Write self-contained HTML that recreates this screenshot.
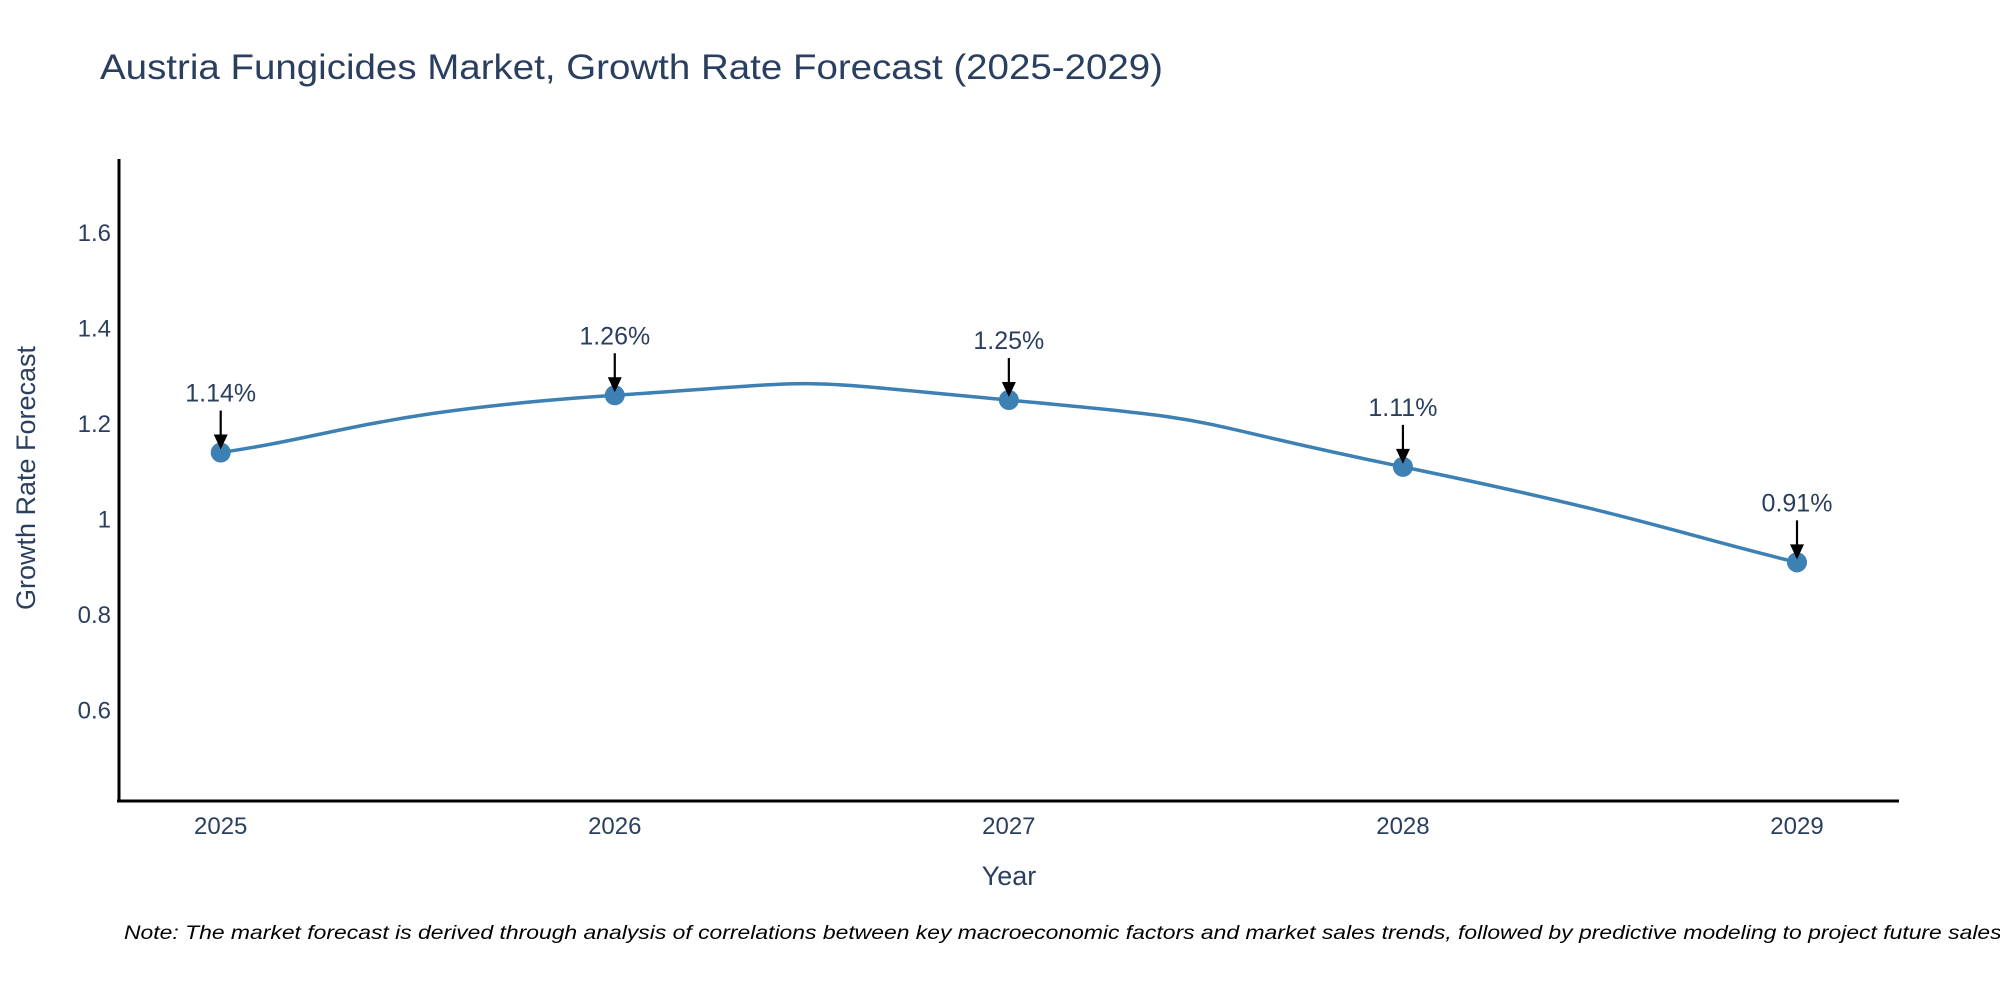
<!DOCTYPE html>
<html><head><meta charset="utf-8"><style>
html,body{margin:0;padding:0;background:#fff;}
svg{display:block;font-family:"Liberation Sans","DejaVu Sans",sans-serif;}
</style></head><body>
<svg id="chart" width="2000" height="1000" viewBox="0 0 2000 1000" xmlns="http://www.w3.org/2000/svg">
<text x="100" y="79" font-size="35" fill="#2a3f5f" textLength="1063" lengthAdjust="spacingAndGlyphs">Austria Fungicides Market, Growth Rate Forecast (2025-2029)</text>
<g id="yticks"></g>
<g id="xticks"></g>
<line x1="119" y1="159" x2="119" y2="802" stroke="#000" stroke-width="3"/>
<line x1="117" y1="801" x2="1899" y2="801" stroke="#000" stroke-width="3"/>
<text transform="translate(35,478) rotate(-90)" text-anchor="middle" font-size="27" fill="#2a3f5f">Growth Rate Forecast</text>
<text x="1009" y="885" text-anchor="middle" font-size="27" fill="#2a3f5f">Year</text>
<g id="series"></g>
<g id="annots"></g>
<text x="124" y="939" font-size="19" font-style="italic" fill="#000" textLength="1884" lengthAdjust="spacingAndGlyphs">Note: The market forecast is derived through analysis of correlations between key macroeconomic factors and market sales trends, followed by predictive modeling to project future sales.</text>
</svg>
<script>
const years = [2025, 2026, 2027, 2028, 2029];
const growth = [1.14, 1.26, 1.25, 1.11, 0.91];
const labels = ["1.14%", "1.26%", "1.25%", "1.11%", "0.91%"];
const yTickVals = [0.6, 0.8, 1.0, 1.2, 1.4, 1.6];
const yTickLabels = ["0.6", "0.8", "1", "1.2", "1.4", "1.6"];

const NS = "http://www.w3.org/2000/svg";
const X0 = 220.7, X1 = 1797, Y_MIN = 0.41, Y_MAX = 1.755, PY0 = 801, PY1 = 159;
function xs(v){ return X0 + (v - years[0]) * (X1 - X0) / (years[years.length-1] - years[0]); }
function ys(v){ return PY0 - (v - Y_MIN) * (PY0 - PY1) / (Y_MAX - Y_MIN); }
function mk(tag, attrs){ const e = document.createElementNS(NS, tag); for (const k in attrs) e.setAttribute(k, attrs[k]); return e; }

const yg = document.getElementById('yticks');
yTickVals.forEach((v,i)=>{
  const t = mk('text', {x:111, y:ys(v)+8, 'text-anchor':'end', 'font-size':24, fill:'#2a3f5f'});
  
  
  t.textContent = yTickLabels[i];
  yg.appendChild(t);
});
const xg = document.getElementById('xticks');
years.forEach(y=>{
  const t = mk('text', {x:xs(y), y:834, 'text-anchor':'middle', 'font-size':24, fill:'#2a3f5f'});
  
  
  t.textContent = String(y);
  xg.appendChild(t);
});

const pts = years.map((y,i)=>[xs(y), ys(growth[i])]);
const s = 0.9;
let d = `M${pts[0][0]},${pts[0][1]}`;
for (let i=0;i<pts.length-1;i++){
  const p0 = pts[i-1]||pts[i], p1 = pts[i], p2 = pts[i+1], p3 = pts[i+2]||pts[i+1];
  const c1 = [p1[0]+(p2[0]-p0[0])*s/3, p1[1]+(p2[1]-p0[1])*s/3];
  const c2 = [p2[0]-(p3[0]-p1[0])*s/3, p2[1]-(p3[1]-p1[1])*s/3];
  d += ` C${c1[0]},${c1[1]} ${c2[0]},${c2[1]} ${p2[0]},${p2[1]}`;
}
const sg = document.getElementById('series');
const line = mk('path', {d:d, fill:'none', stroke:'#3d80b3', 'stroke-width':3.5});


sg.appendChild(line);
pts.forEach((p,i)=>{
  const c = mk('circle', {cx:p[0], cy:p[1], r:10, fill:'#3d80b3'});
  
  
  sg.appendChild(c);
});

const ag = document.getElementById('annots');
pts.forEach((p,i)=>{
  const top = p[1]-42, tip = p[1]-3;
  const ln = mk('line', {x1:p[0], y1:top, x2:p[0], y2:tip-12, stroke:'#000', 'stroke-width':2.2});
  
  
  ag.appendChild(ln);
  const hd = mk('polygon', {points:`${p[0]-7},${tip-15} ${p[0]+7},${tip-15} ${p[0]},${tip}`, fill:'#000'});
  
  
  ag.appendChild(hd);
  const t = mk('text', {x:p[0], y:top-9, 'text-anchor':'middle', 'font-size':25, fill:'#2a3f5f'});
  
  
  t.textContent = labels[i];
  ag.appendChild(t);
});
</script>
</body></html>
